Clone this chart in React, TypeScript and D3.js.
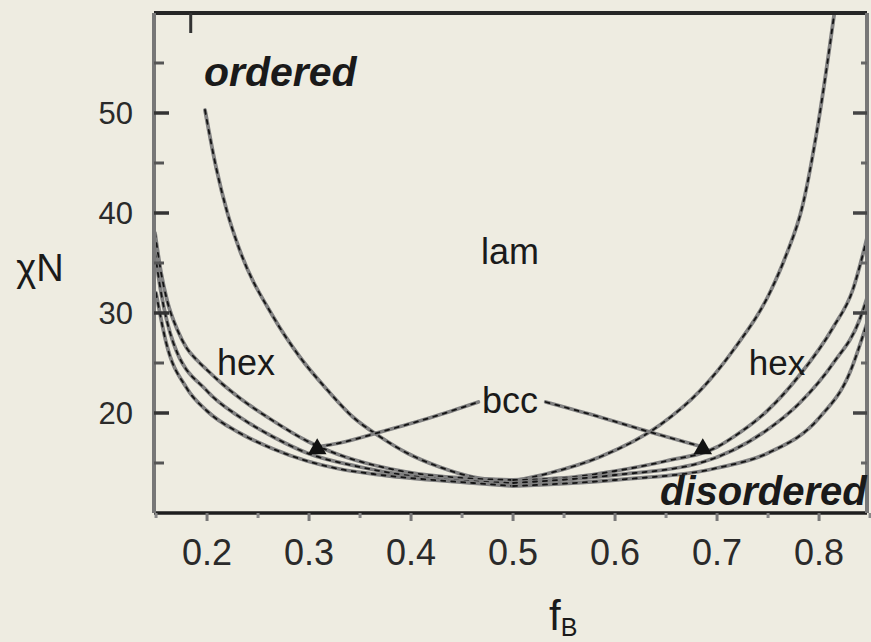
import React from "react";
import * as d3 from "d3";

const W = 871;
const H = 642;

// axis ticks
const xMajorTicks = [0.2, 0.3, 0.4, 0.5, 0.6, 0.7, 0.8];
const xMajorLabels = ["0.2", "0.3", "0.4", "0.5", "0.6", "0.7", "0.8"];
const xMinorTicks = [0.15, 0.25, 0.35, 0.45, 0.55, 0.65, 0.75, 0.85];
const yMajorTicks = [20, 30, 40, 50];
const yMajorLabels = ["20", "30", "40", "50"];
const yMinorTicks = [15, 25, 35, 45, 55];
const topTicks = [0.184];

// lam / hex boundary
const lamLeftX = [0.198, 0.209, 0.22, 0.232, 0.265, 0.291, 0.318, 0.343, 0.37, 0.396, 0.428, 0.461, 0.5];
const lamLeftY = [50.3, 44.5, 40, 36.3, 29.6, 25.6, 22.3, 19.6, 17.6, 16.0, 14.6, 13.6, 13.2];
const lamRightX = [0.5, 0.536, 0.585, 0.644, 0.683, 0.716, 0.753, 0.767, 0.784, 0.8, 0.815];
const lamRightY = [13.2, 14.0, 15.6, 18.8, 22.2, 26.3, 32.3, 35.6, 40.8, 49.5, 60];

// hex / bcc boundary
const outerLeftX = [0.149, 0.155, 0.161, 0.171, 0.18, 0.19, 0.2, 0.215, 0.232, 0.265, 0.298, 0.33, 0.363, 0.396, 0.45, 0.5];
const outerLeftY = [38, 34, 31.2, 28.3, 26.5, 25.3, 24.3, 22.9, 21.5, 19.2, 17.2, 15.8, 14.8, 14.1, 13.5, 13.3];
const outerRightX = [0.5, 0.55, 0.6, 0.65, 0.7, 0.716, 0.749, 0.781, 0.814, 0.833, 0.847];
const outerRightY = [13.3, 13.5, 14.2, 15.2, 16.6, 17.6, 20.2, 23.8, 28.6, 32.3, 37.5];

// bcc / disordered boundary
const middleLeftX = [0.149, 0.155, 0.167, 0.2, 0.232, 0.265, 0.298, 0.35, 0.4, 0.5];
const middleLeftY = [36, 32, 27, 22.2, 19.6, 17.6, 16.0, 14.6, 13.7, 13.0];
const middleRightX = [0.5, 0.6, 0.683, 0.716, 0.749, 0.781, 0.814, 0.84, 0.847];
const middleRightY = [13.0, 13.8, 15.0, 16.3, 18.3, 21.0, 25.0, 29.4, 31.5];

// order-disorder transition
const innerLeftX = [0.15, 0.16, 0.18, 0.2, 0.232, 0.265, 0.298, 0.33, 0.363, 0.461, 0.5];
const innerLeftY = [32, 27, 22.5, 20.2, 18.0, 16.4, 15.2, 14.4, 13.9, 13.0, 12.7];
const innerRightX = [0.5, 0.6, 0.7, 0.75, 0.8, 0.83, 0.847];
const innerRightY = [12.7, 13.3, 14.5, 16.0, 19.5, 24.0, 29];

// bcc pointer lines
const bccLeftX = [0.308, 0.33, 0.37, 0.421, 0.466];
const bccLeftY = [16.6, 17.0, 18.1, 19.6, 21.1];
const bccRightX = [0.532, 0.585, 0.634, 0.686];
const bccRightY = [21.1, 19.6, 18.1, 16.6];
const arrowX = [0.308, 0.686];
const arrowY = [16.4, 16.4];

const curves: [number[], number[]][] = [
  [lamLeftX, lamLeftY],
  [lamRightX, lamRightY],
  [outerLeftX, outerLeftY],
  [outerRightX, outerRightY],
  [middleLeftX, middleLeftY],
  [middleRightX, middleRightY],
  [innerLeftX, innerLeftY],
  [innerRightX, innerRightY],
];

const FONT = "'Liberation Sans', Arial, Helvetica, sans-serif";

export default function App() {
  const x = d3.scaleLinear().domain([0.148, 0.847]).range([154, 867]);
  const y = d3.scaleLinear().domain([10, 60]).range([513, 13]);
  const line = d3
    .line<[number, number]>()
    .x((d) => x(d[0]))
    .y((d) => y(d[1]))
    .curve(d3.curveMonotoneX);
  const zip = (xs: number[], ys: number[]) => xs.map((v, i) => [v, ys[i]] as [number, number]);
  const tri = d3.symbol().type(d3.symbolTriangle).size(150)();

  const [x0, x1] = x.range();
  const [y0, y1] = y.range();

  const allLines: [number[], number[]][] = [
    ...curves,
    [bccLeftX, bccLeftY],
    [bccRightX, bccRightY],
  ];

  return (
    <svg
      width={W}
      height={H}
      style={{ position: "absolute", left: 0, top: 0, background: "#eeece1" }}
    >
      <rect x={0} y={0} width={W} height={H} fill="#eeece1" />
      <defs>
        <clipPath id="plot">
          <rect x={x0} y={y1} width={x1 - x0} height={y0 - y1} />
        </clipPath>
      </defs>

      {/* curves */}
      <g clipPath="url(#plot)" fill="none" strokeLinecap="round">
        {allLines.map(([xs, ys], i) => (
          <g key={i}>
            <path d={line(zip(xs, ys)) || ""} stroke="#808080" strokeWidth={3.8} />
            <path d={line(zip(xs, ys)) || ""} stroke="#141414" strokeWidth={1.8} strokeDasharray="4 6" />
          </g>
        ))}
        {arrowX.map((v, i) => (
          <path key={"t" + i} d={tri || ""} transform={`translate(${x(v)},${y(arrowY[i])})`} fill="#111" />
        ))}
      </g>

      {/* frame */}
      <line x1={x0} x2={x1} y1={y1} y2={y1} stroke="#262626" strokeWidth={4} />
      <line x1={x0} x2={x1} y1={y0} y2={y0} stroke="#1e1e1e" strokeWidth={3.5} />
      <line x1={x0} x2={x0} y1={y1} y2={y0} stroke="#777" strokeWidth={4} />
      <line x1={x1} x2={x1} y1={y1} y2={y0} stroke="#777" strokeWidth={4} />

      {/* ticks */}
      {yMajorTicks.map((t) => (
        <g key={"ym" + t}>
          <line x1={x0} x2={x0 + 15} y1={y(t)} y2={y(t)} stroke="#333" strokeWidth={3.5} />
          <line x1={x1 - 14} x2={x1} y1={y(t)} y2={y(t)} stroke="#444" strokeWidth={3.5} />
        </g>
      ))}
      {yMinorTicks.map((t) => (
        <g key={"yn" + t}>
          <line x1={x0} x2={x0 + 10} y1={y(t)} y2={y(t)} stroke="#555" strokeWidth={3} />
          <line x1={x1 - 6} x2={x1} y1={y(t)} y2={y(t)} stroke="#666" strokeWidth={3} />
        </g>
      ))}
      {xMajorTicks.map((t) => (
        <line key={"xm" + t} x1={x(t)} x2={x(t)} y1={y0} y2={y0 + 8} stroke="#777" strokeWidth={3} />
      ))}
      {xMinorTicks.map((t) => (
        <line key={"xn" + t} x1={x(t)} x2={x(t)} y1={y0} y2={y0 + 5} stroke="#888" strokeWidth={3} />
      ))}
      {topTicks.map((t) => (
        <line key={"tt" + t} x1={x(t)} x2={x(t)} y1={y1} y2={y1 + 20} stroke="#333" strokeWidth={3} />
      ))}

      {/* tick labels */}
      <g fontFamily={FONT} fill="#2a2a2a">
        {xMajorTicks.map((t, i) => (
          <text key={"xl" + t} x={x(t)} y={565} fontSize={36} textAnchor="middle">
            {xMajorLabels[i]}
          </text>
        ))}
        {yMajorTicks.map((t, i) => (
          <text key={"yl" + t} x={133} y={y(t) + 11} fontSize={31} textAnchor="end">
            {yMajorLabels[i]}
          </text>
        ))}
      </g>

      {/* axis titles */}
      <g fontFamily={FONT} fill="#1a1a1a">
        <text x={40} y={281} fontSize={38} textAnchor="middle">
          χN
        </text>
        <text x={549} y={630} fontSize={42}>
          f
          <tspan fontSize={25} dy={6}>
            B
          </tspan>
        </text>
      </g>

      {/* region labels */}
      <g fontFamily={FONT} fill="#1a1a1a">
        <text x={204} y={86} fontSize={41} fontStyle="italic" fontWeight="bold">
          ordered
        </text>
        <text x={660} y={505} fontSize={40} fontStyle="italic" fontWeight="bold">
          disordered
        </text>
        <text x={510} y={264} fontSize={36} textAnchor="middle">
          lam
        </text>
        <text x={246} y={375} fontSize={36} textAnchor="middle">
          hex
        </text>
        <text x={777} y={375} fontSize={35} textAnchor="middle">
          hex
        </text>
        <text x={510} y={413} fontSize={36} textAnchor="middle">
          bcc
        </text>
      </g>
    </svg>
  );
}
